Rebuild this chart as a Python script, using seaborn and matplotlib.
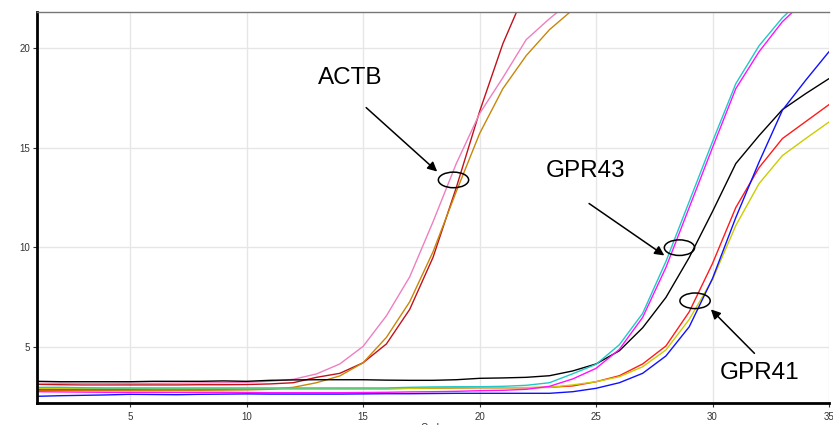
import numpy as np
import pandas as pd
import matplotlib
matplotlib.use("Agg")
import matplotlib.pyplot as plt
from matplotlib.patches import Ellipse
import seaborn as sns

# ---- data ----
cycles = list(range(1, 36))

actb_darkred = [3.15, 3.13, 3.12, 3.12, 3.12, 3.12, 3.12, 3.13, 3.13, 3.14, 3.17, 3.23, 3.5, 3.7,
                4.23, 5.17, 6.9, 9.5, 13.0, 16.8, 20.2, 22.9]
actb_pink = [3.2, 3.2, 3.19, 3.19, 3.2, 3.2, 3.21, 3.22, 3.23, 3.25, 3.3, 3.4, 3.67, 4.17,
             5.05, 6.58, 8.53, 11.28, 14.2, 16.7, 18.5, 20.4, 21.45, 22.4]
actb_brown = [2.85, 2.85, 2.84, 2.84, 2.84, 2.84, 2.85, 2.85, 2.86, 2.87, 2.9, 3.0, 3.23, 3.57,
              4.23, 5.5, 7.28, 9.78, 12.8, 15.7, 17.95, 19.6, 20.9, 21.9, 22.8]

gpr43_cyan = [3.0, 3.0, 2.98, 2.97, 2.97, 2.97, 2.97, 2.97, 2.97, 2.97, 2.97, 2.97, 2.97, 2.97,
              2.97, 2.97, 3.0, 3.02, 3.03, 3.03, 3.05, 3.1, 3.23, 3.68, 4.15, 5.13, 6.7, 9.3,
              12.3, 15.3, 18.2, 20.1, 21.5, 22.6, 23.5]
gpr43_magenta = [2.78, 2.77, 2.76, 2.75, 2.75, 2.75, 2.75, 2.75, 2.75, 2.74, 2.73, 2.73, 2.73, 2.73,
                 2.74, 2.75, 2.77, 2.78, 2.8, 2.83, 2.85, 2.9, 3.05, 3.42, 3.95, 4.9, 6.5, 9.0,
                 12.0, 15.0, 17.95, 19.8, 21.3, 22.4, 23.3]
gpr43_black = [3.3, 3.28, 3.28, 3.28, 3.28, 3.3, 3.3, 3.3, 3.32, 3.3, 3.35, 3.37, 3.38, 3.38,
               3.38, 3.36, 3.35, 3.35, 3.38, 3.45, 3.47, 3.5, 3.58, 3.82, 4.17, 4.83, 5.98, 7.5,
               9.5, 11.8, 14.2, 15.6, 16.9, 17.7, 18.45]

gpr41_red = [2.88, 2.88, 2.89, 2.89, 2.9, 2.9, 2.9, 2.9, 2.9, 2.92, 2.93, 2.93, 2.93, 2.93,
             2.93, 2.93, 2.95, 2.95, 2.97, 2.98, 2.98, 2.98, 3.0, 3.07, 3.28, 3.58, 4.17, 5.07,
             6.78, 9.2, 12.0, 14.0, 15.45, 16.3, 17.15]
gpr41_yellow = [2.95, 2.95, 2.94, 2.94, 2.94, 2.93, 2.93, 2.93, 2.93, 2.93, 2.93, 2.93, 2.93, 2.93,
                2.93, 2.93, 2.95, 2.96, 2.97, 2.98, 2.98, 2.99, 3.0, 3.12, 3.28, 3.53, 4.03, 4.87,
                6.4, 8.4, 11.1, 13.2, 14.6, 15.45, 16.28]
gpr41_blue = [2.55, 2.58, 2.6, 2.62, 2.65, 2.64, 2.63, 2.65, 2.66, 2.67, 2.66, 2.66, 2.66, 2.66,
              2.67, 2.68, 2.68, 2.69, 2.7, 2.7, 2.7, 2.7, 2.7, 2.78, 2.95, 3.23, 3.7, 4.57,
              6.03, 8.45, 11.5, 14.28, 16.87, 18.37, 19.8]

x_ticks = [5, 10, 15, 20, 25, 30, 35]
y_ticks = [5, 10, 15, 20]

labels = ["ACTB", "GPR43", "GPR41"]
label_xy = [(14.45, 18.5), (24.57, 13.82), (32.0, 3.72)]
ellipse_xy = [(18.88, 13.38), (28.58, 9.99), (29.25, 7.33)]
arrow_tail = [(15.13, 17.0), (24.7, 12.2), (31.8, 4.7)]
arrow_head = [(18.18, 13.8), (27.93, 9.6), (29.93, 6.9)]

series = {
    "actb_darkred": (actb_darkred, "#c0121c"),
    "actb_pink": (actb_pink, "#ee7fc0"),
    "actb_brown": (actb_brown, "#c8860a"),
    "gpr43_black": (gpr43_black, "#000000"),
    "gpr41_red": (gpr41_red, "#ff1a1a"),
    "gpr41_yellow": (gpr41_yellow, "#cccc00"),
    "gpr43_magenta": (gpr43_magenta, "#ff10ff"),
    "gpr43_cyan": (gpr43_cyan, "#20c8c8"),
    "gpr41_blue": (gpr41_blue, "#1010ff"),
}

rows = []
for name, (vals, _) in series.items():
    for c, v in zip(cycles, vals):
        rows.append({"Cycle": c, "Fluor": v, "Well": name})
df = pd.DataFrame(rows)
palette = {k: v[1] for k, v in series.items()}

sns.set_theme(style="white")
plt.rcParams["font.family"] = ["Liberation Sans", "DejaVu Sans"]

fig = plt.figure(figsize=(8.33, 4.25), dpi=100)
ax = fig.add_axes([37 / 833, 1 - 403.3 / 425, (829 - 37) / 833, (403.3 - 11.7) / 425])

sns.lineplot(data=df, x="Cycle", y="Fluor", hue="Well", palette=palette,
             hue_order=list(series.keys()), estimator=None, sort=False,
             legend=False, linewidth=1.0, ax=ax)

ax.set_xlim(1, 35)
ax.set_ylim(2.2, 21.8)
ax.set_xticks(x_ticks)
ax.set_yticks(y_ticks)
ax.set_xticklabels([str(t) for t in x_ticks])
ax.set_yticklabels([str(t) for t in y_ticks])
ax.grid(True, color="#e6e6e6", linewidth=1.0)
ax.set_axisbelow(True)
ax.tick_params(axis="both", which="major", labelsize=7, colors="#333333",
               length=3, width=0.8, direction="out", pad=2,
               bottom=True, left=True)
ax.tick_params(axis="x", pad=3)
ax.set_xlabel("Cycle", fontsize=7, color="#333333", labelpad=1)
ax.set_ylabel("")

ax.spines["left"].set_color("black")
ax.spines["left"].set_linewidth(2.0)
ax.spines["bottom"].set_color("black")
ax.spines["bottom"].set_linewidth(2.0)
ax.spines["top"].set_color("#777777")
ax.spines["top"].set_linewidth(1.0)
ax.spines["right"].set_visible(False)

for lab, (lx, ly), (ex, ey), t, h in zip(labels, label_xy, ellipse_xy, arrow_tail, arrow_head):
    ax.text(lx, ly, lab, fontsize=17.5, ha="center", va="center", color="black",
            family=["Liberation Sans", "DejaVu Sans"])
    ax.add_patch(Ellipse((ex, ey), width=1.3, height=0.78, fill=False,
                         edgecolor="black", linewidth=1.1, zorder=5))
    ax.annotate("", xy=h, xytext=t,
                arrowprops=dict(arrowstyle="-|>", color="black", lw=1.1,
                                mutation_scale=14, shrinkA=0, shrinkB=0), zorder=6)

fig.savefig("out.png", dpi=100)
